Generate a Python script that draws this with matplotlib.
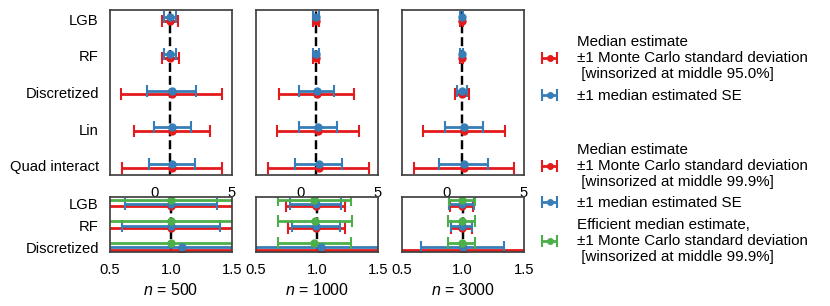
import matplotlib
matplotlib.use("Agg")
import matplotlib.pyplot as plt
import numpy as np

plt.rcParams['font.family'] = ['Liberation Sans', 'DejaVu Sans']
plt.rcParams['mathtext.fontset'] = 'custom'
plt.rcParams['mathtext.rm'] = 'Liberation Sans'
plt.rcParams['mathtext.it'] = 'Liberation Sans:italic'
plt.rcParams['font.size'] = 11
plt.rcParams['axes.edgecolor'] = '.25'
plt.rcParams['axes.linewidth'] = 1.25

RED = '#e41a1c'
BLUE = '#377eb8'
GREEN = '#4daf4a'

sample_sizes = [500, 1000, 3000]
methods = ['LGB', 'RF', 'Discretized', 'Lin', 'Quad interact']
methods_eff = ['LGB', 'RF', 'Discretized']
true_value = 1.0

# one row per sample size, one column per method
median_est = [
    [1.00, 1.00, 1.09, 1.12, 1.13],
    [0.99, 0.995, 1.03, 1.13, 1.16],
    [0.99, 0.99, 1.00, 1.12, 1.12],
]
median_se = [
    [0.375, 0.40, 1.58, 1.20, 1.50],
    [0.21, 0.195, 1.11, 1.21, 1.50],
    [0.10, 0.088, 0.34, 1.21, 1.58],
]
mc_sd_95 = [
    [0.51, 0.55, 3.25, 2.45, 3.25],
    [0.20, 0.21, 2.40, 2.63, 3.25],
    [0.09, 0.09, 0.45, 2.65, 3.25],
]
mc_sd_999 = [
    [1.40, 1.30, 4.80],
    [0.24, 0.235, 4.20],
    [0.097, 0.09, 1.90],
]
eff_median = [
    [1.00, 1.00, 1.00],
    [0.98, 0.985, 0.98],
    [0.995, 0.99, 0.99],
]
eff_mc_sd_999 = [
    [0.85, 0.80, 0.90],
    [0.30, 0.305, 0.30],
    [0.105, 0.108, 0.11],
]


def bars(ax, x, y, err, color):
    return ax.errorbar(x, y, xerr=err, fmt='o', color=color, ms=5,
                       elinewidth=2, capsize=4.5, capthick=1.5)


fig = plt.figure(figsize=(8.3, 3.06), dpi=100)
gs = fig.add_gridspec(2, 3, left=0.1325, right=0.631, top=0.967, bottom=0.1775,
                      height_ratios=[3, 1], hspace=0.196, wspace=0.196)

y_top = np.arange(len(methods))
y_bot = np.arange(len(methods_eff))

for j, n in enumerate(sample_sizes):
    ax = fig.add_subplot(gs[0, j])
    ax.axvline(true_value, color='k', ls='--', lw=1.75, zorder=1.5)
    h_red = bars(ax, median_est[j], y_top + 0.05, mc_sd_95[j], RED)
    h_blue = bars(ax, median_est[j], y_top - 0.05, median_se[j], BLUE)
    ax.set_xlim(-2.9, 5)
    ax.set_ylim(4.25, -0.25)
    ax.set_xticks([0, 5])
    ax.set_yticks(y_top)
    ax.set_yticklabels(methods if j == 0 else [])
    ax.tick_params(length=0, pad=8, labelsize=10.6)
    if j == 2:
        top_handles = [h_red, h_blue]

    ax = fig.add_subplot(gs[1, j])
    ax.axvline(true_value, color='k', ls='--', lw=1.75, zorder=1.5)
    med = median_est[j][:len(methods_eff)]
    se = median_se[j][:len(methods_eff)]
    h_red = bars(ax, med, y_bot + 0.1, mc_sd_999[j], RED)
    h_blue = bars(ax, med, y_bot, se, BLUE)
    h_green = bars(ax, eff_median[j], y_bot - 0.2, eff_mc_sd_999[j], GREEN)
    ax.set_xlim(0.5, 1.5)
    ax.set_ylim(2.2, -0.33)
    ax.set_xticks([0.5, 1.0, 1.5])
    ax.set_yticks(y_bot)
    ax.set_yticklabels(methods_eff if j == 0 else [])
    ax.tick_params(length=0, pad=8, labelsize=10.6)
    ax.set_xlabel(f'$n$ = {n}', labelpad=4, fontsize=11.5)
    if j == 2:
        bot_handles = [h_red, h_blue, h_green]

leg1 = fig.legend(top_handles,
                  ['Median estimate\n±1 Monte Carlo standard deviation\n [winsorized at middle 95.0%]',
                   '±1 median estimated SE'],
                  loc='center left', bbox_to_anchor=(0.6366, 0.7745),
                  borderaxespad=0, frameon=False, fontsize=10.9, markerscale=0.8)
leg2 = fig.legend(bot_handles,
                  ['Median estimate\n±1 Monte Carlo standard deviation\n [winsorized at middle 99.9%]',
                   '±1 median estimated SE',
                   'Efficient median estimate,\n±1 Monte Carlo standard deviation\n [winsorized at middle 99.9%]'],
                  loc='center left', bbox_to_anchor=(0.6366, 0.335),
                  borderaxespad=0, frameon=False, fontsize=10.9, markerscale=0.8)

fig.savefig('out.png', dpi=100)
